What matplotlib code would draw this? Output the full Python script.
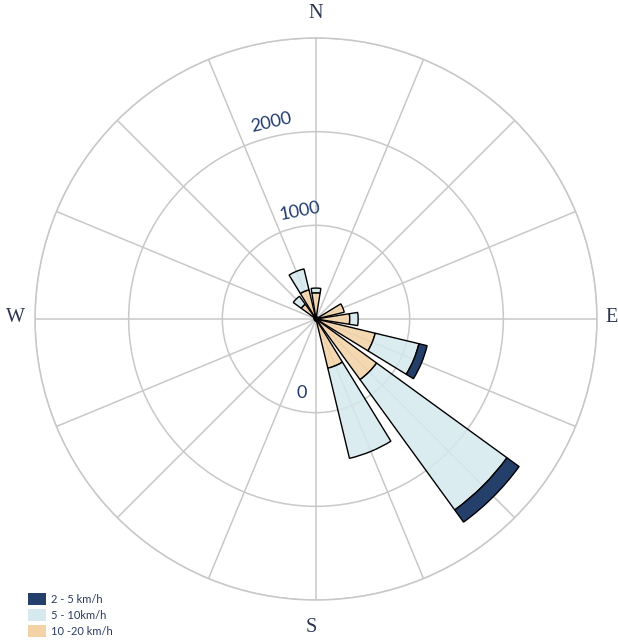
import numpy as np
import matplotlib
matplotlib.use("Agg")
import matplotlib.pyplot as plt
from matplotlib.patches import Patch
from matplotlib.colors import to_rgba

# wind directions, clockwise from north
directions = ['N', 'NNE', 'NE', 'ENE', 'E', 'ESE', 'SE', 'SSE',
              'S', 'SSW', 'SW', 'WSW', 'W', 'WNW', 'NW', 'NNW']

# frequencies per speed band (stacked from the centre outwards)
speed_10_20 = [280, 25, 25, 310, 360, 650, 800, 540, 25, 20, 20, 20, 20, 25, 195, 320]
speed_5_10 = [50, 0, 0, 0, 90, 480, 1720, 990, 0, 0, 0, 0, 0, 0, 105, 230]
speed_2_5 = [0, 0, 0, 0, 0, 90, 160, 0, 0, 0, 0, 0, 0, 0, 0, 0]

series_labels = ['2 - 5 km/h', '5 - 10km/h', '10 -20 km/h']
radial_ticks = [1000, 2000, 3000]

DARK = '#253f6b'
LIGHT = '#d5e9ee'
ORANGE = '#f3d2a5'
GRID = '#c8c8c8'
TEXT = '#1f3a6e'

fig = plt.figure(figsize=(6.18, 6.42), dpi=100)
ax = fig.add_axes([35 / 618, 42 / 642, 562 / 618, 562 / 642], projection='polar')
ax.set_theta_zero_location('N')
ax.set_theta_direction(-1)

angles = np.deg2rad(np.arange(len(directions)) * 22.5)
width = np.deg2rad(18)

bottom = np.zeros(len(directions))
for values, color, alpha in [(speed_10_20, ORANGE, 0.85), (speed_5_10, LIGHT, 0.85),
                             (speed_2_5, DARK, 1.0)]:
    values = np.array(values, dtype=float)
    mask = values > 0
    ax.bar(angles[mask], values[mask], width=width, bottom=bottom[mask],
           color=to_rgba(color, alpha), edgecolor='black', linewidth=1.0, zorder=3)
    bottom += values

ax.set_ylim(0, 3000)
ax.set_yticks(radial_ticks)
ax.set_yticklabels([])
ax.set_xticks(angles)
ax.set_xticklabels([])
ax.set_axisbelow(True)
ax.grid(True, color=GRID, linewidth=1.1)
ax.spines['polar'].set_color(GRID)
ax.spines['polar'].set_linewidth(1.1)
ax.tick_params(length=0)

# compass labels
for txt, px, py in [('N', 316, 14), ('E', 612, 318), ('S', 311, 627), ('W', 15, 318)]:
    fig.text(px / 618, 1 - py / 642, txt, ha='center', va='center',
             fontsize=14.5, family='Liberation Serif', color='#2c3550')

# radial axis labels
for txt, px, py, rot in [('2000', 271, 122, 13), ('1000', 300, 211, 11), ('0', 302, 393, 0)]:
    fig.text(px / 618, 1 - py / 642, txt, ha='center', va='center', rotation=rot,
             fontsize=13, family='Lato', color=TEXT)

handles = [Patch(facecolor=DARK), Patch(facecolor=LIGHT), Patch(facecolor=ORANGE)]
fig.legend(handles, series_labels, loc='upper left',
           bbox_to_anchor=(18 / 618, 1 - 583 / 642), frameon=False,
           handlelength=1.6, handleheight=1.3, labelspacing=0.35,
           handletextpad=0.5, prop={'family': 'Lato', 'size': 8},
           labelcolor='#2a3a5e')

fig.savefig('out.png', dpi=100)
